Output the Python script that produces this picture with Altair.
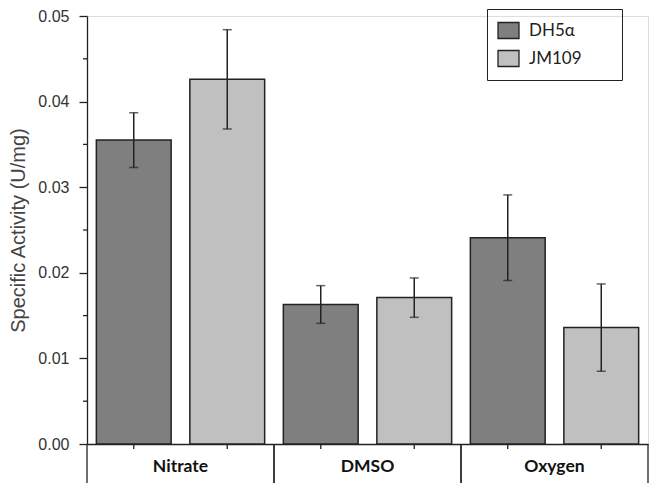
import altair as alt
import pandas as pd

conditions = ["Nitrate", "DMSO", "Oxygen"]
strains = ["DH5α", "JM109"]
dh5a = [0.0355, 0.0163, 0.0241]
jm109 = [0.0426, 0.0171, 0.0136]
dh5a_err = [0.0032, 0.0022, 0.0050]
jm109_err = [0.0058, 0.0023, 0.0051]
y_ticks = [0.0, 0.01, 0.02, 0.03, 0.04, 0.05]
y_minor = [0.005, 0.015, 0.025, 0.035, 0.045]
colors = ["#7f7f7f", "#c0c0c0"]

rows = []
for i, c in enumerate(conditions):
    rows.append(dict(Condition=c, Strain=strains[0], Value=dh5a[i], Err=dh5a_err[i]))
    rows.append(dict(Condition=c, Strain=strains[1], Value=jm109[i], Err=jm109_err[i]))
df = pd.DataFrame(rows)
df["Lo"] = df["Value"] - df["Err"]
df["Hi"] = df["Value"] + df["Err"]

cond_df = pd.DataFrame({"Condition": conditions})
minor_df = pd.DataFrame({"m": y_minor})

INK = "#222222"

x_axis = alt.Axis(title=None, ticks=False, labelAngle=0, labelFontWeight="bold",
                  labelFontSize=17.5, labelFont="Lato", labelColor="#111111",
                  labelPadding=13, domainColor=INK, domainWidth=1.3)
x_scale = alt.Scale(paddingInner=0, paddingOuter=0)
xo = alt.XOffset("Strain:N", sort=strains, scale=alt.Scale(paddingInner=0.2, paddingOuter=0.1))

y_scale = alt.Scale(domain=[0, 0.05], nice=False, zero=True)
y_axis = alt.Axis(title="Specific Activity (U/mg)", values=y_ticks, format=".2f", grid=False,
                  tickSize=8, tickColor=INK, tickWidth=1.3, domainColor=INK, domainWidth=1.3,
                  labelFont="Liberation Sans", labelFontSize=16, labelColor="#333333",
                  labelPadding=10, titleFont="Liberation Sans", titleFontSize=20,
                  titleFontWeight="normal", titleColor="#444444", titlePadding=9)


def X(**kw):
    return alt.X("Condition:N", sort=conditions, scale=x_scale, axis=x_axis, **kw)


bars = alt.Chart(df).mark_bar(stroke=INK, strokeWidth=1.5).encode(
    x=X(),
    xOffset=xo,
    y=alt.Y("Value:Q", scale=y_scale, axis=y_axis),
    color=alt.Color("Strain:N", sort=strains,
                    scale=alt.Scale(domain=strains, range=colors),
                    legend=alt.Legend(title="JM1", titleOrient="right", titleOpacity=0,
                                      titleFontSize=13, titlePadding=4,
                                      orient="none", legendX=400, legendY=-7,
                                      strokeColor=INK, padding=10,
                                      symbolType="M-1,-0.76H1V0.76H-1Z", symbolSize=441,
                                      symbolStrokeColor=INK, symbolStrokeWidth=1.3,
                                      labelFont="Lato", labelFontSize=17, labelColor="#222222",
                                      labelOffset=9, rowPadding=5)),
)

err = alt.Chart(df).mark_rule(color=INK, strokeWidth=1.5).encode(
    x=X(), xOffset=xo,
    y=alt.Y("Lo:Q", scale=y_scale, axis=y_axis), y2="Hi:Q",
)
cap_lo = alt.Chart(df).mark_tick(color=INK, thickness=1.5, size=9).encode(
    x=X(), xOffset=xo, y=alt.Y("Lo:Q", scale=y_scale, axis=y_axis),
)
cap_hi = alt.Chart(df).mark_tick(color=INK, thickness=1.5, size=9).encode(
    x=X(), xOffset=xo, y=alt.Y("Hi:Q", scale=y_scale, axis=y_axis),
)

center_ticks = alt.Chart(df).mark_rule(color=INK, strokeWidth=1.3).encode(
    x=X(), xOffset=xo, y=alt.value(428), y2=alt.value(433),
)
sep_left = alt.Chart(cond_df).mark_rule(color=INK, strokeWidth=1.3).encode(
    x=X(bandPosition=0), y=alt.value(428), y2=alt.value(467),
)
sep_right = alt.Chart(cond_df).mark_rule(color=INK, strokeWidth=1.3).encode(
    x=X(bandPosition=1), y=alt.value(428), y2=alt.value(467),
)
minor = alt.Chart(minor_df).mark_rule(color=INK, strokeWidth=1.3).encode(
    x=alt.value(-4), x2=alt.value(0), y=alt.Y("m:Q", scale=y_scale, axis=y_axis),
)

chart = alt.layer(bars, err, cap_lo, cap_hi, center_ticks, sep_left, sep_right, minor).properties(
    width=561, height=428,
    padding={"left": 79, "top": 8, "right": 2, "bottom": 42},
    autosize=alt.AutoSizeParams(type="none"),
).configure_view(stroke=None).configure(background="white")

chart.save("out.html", embed_options={"renderer": "svg", "actions": False})
